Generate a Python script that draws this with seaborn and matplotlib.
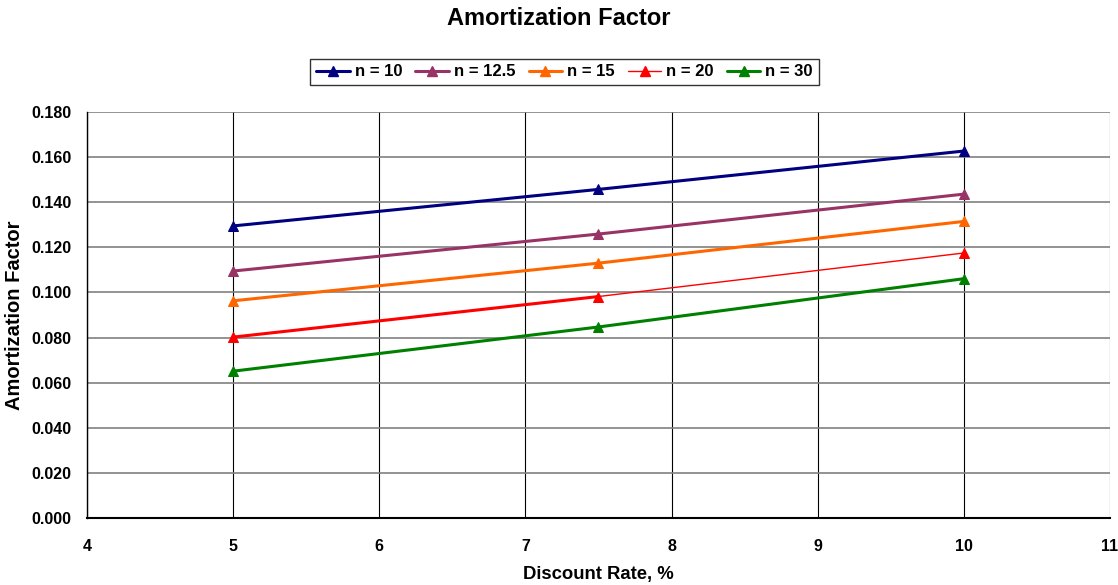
import matplotlib
matplotlib.use("Agg")
import matplotlib.pyplot as plt
import seaborn as sns
import pandas as pd

rates = [5, 7.5, 10]
series_names = ["n = 10", "n = 12.5", "n = 15", "n = 20", "n = 30"]
n10 = [0.1295, 0.1457, 0.1627]
n12_5 = [0.1095, 0.1259, 0.1436]
n15 = [0.0963, 0.1130, 0.1315]
n20 = [0.0802, 0.0982, 0.1175]
n30 = [0.0651, 0.0847, 0.1061]
values = [n10, n12_5, n15, n20, n30]
colors = ["#000080", "#993366", "#FF6600", "#FF0000", "#008000"]
widths = [2.2, 2.2, 2.2, 1.0, 2.2]

sns.set_style("white")
plt.rcParams["font.family"] = ["Liberation Sans", "DejaVu Sans"]
plt.rcParams["text.color"] = "black"
plt.rcParams["axes.labelcolor"] = "black"
plt.rcParams["xtick.color"] = "black"
plt.rcParams["ytick.color"] = "black"

fig = plt.figure(figsize=(11.18, 5.85), dpi=100)
ax = fig.add_axes([0.0778, 0.1145, 0.9150, 0.694])

rows = []
for name, vals in zip(series_names, values):
    for r, v in zip(rates, vals):
        rows.append({"rate": r, "value": v, "series": name})
df = pd.DataFrame(rows)

handles = []
for name, col, lw in zip(series_names, colors, widths):
    sub = df[df["series"] == name]
    sns.lineplot(data=sub, x="rate", y="value", ax=ax, color=col, lw=lw,
                 marker="^", markersize=7, markeredgecolor=col, label=name,
                 legend=False)
    if name == "n = 20":
        # first segment drawn heavier, as in the reference
        seg = sub.iloc[:2]
        sns.lineplot(data=seg, x="rate", y="value", ax=ax, color=col, lw=2.2,
                     legend=False)
    handles.append(plt.Line2D([], [], color=col, lw=lw, marker="^",
                              markersize=7, markeredgecolor=col))

ax.set_xlim(4, 11)
ax.set_ylim(0, 0.18)
ax.set_xticks(range(4, 12))
ax.set_yticks([i * 0.02 for i in range(10)])
ax.set_yticklabels([f"{i * 0.02:.3f}" for i in range(10)])
ax.grid(axis="y", color="#808080", lw=1.2)
ax.grid(axis="x", color="#000000", lw=0.8)
ax.set_axisbelow(True)
for s in ["top", "right"]:
    ax.spines[s].set_visible(False)
ax.spines["left"].set_color("black")
ax.spines["bottom"].set_color("black")
ax.spines["left"].set_linewidth(1.0)
ax.spines["bottom"].set_linewidth(1.5)
ax.tick_params(axis="y", direction="out", length=5, color="black",
               labelsize=11.5, pad=6, labelcolor="black")
ax.tick_params(axis="x", direction="out", length=5, color="black",
               labelsize=11.5, pad=10, labelcolor="black")
for lab in ax.get_xticklabels() + ax.get_yticklabels():
    lab.set_fontweight("bold")
ax.set_xlabel("Discount Rate, %", fontsize=13.3, fontweight="bold", color="black")
ax.set_ylabel("Amortization Factor", fontsize=14.5, fontweight="bold", color="black")
ax.yaxis.set_label_coords(-0.062, 0.5)
ax.xaxis.set_label_coords(0.5, -0.118)

fig.suptitle("Amortization Factor", fontsize=17, fontweight="bold", y=0.988,
             color="black")

leg = fig.legend(handles, series_names, loc="center", bbox_to_anchor=(0.505, 0.877),
                 ncol=5, frameon=True, fancybox=False, edgecolor="black",
                 prop={"weight": "bold", "size": 12}, handlelength=2.0,
                 handletextpad=0.3, columnspacing=0.8, borderpad=0.35)
leg.get_frame().set_linewidth(1.0)
for t in leg.get_texts():
    t.set_color("black")

fig.savefig("out.png", dpi=100)
